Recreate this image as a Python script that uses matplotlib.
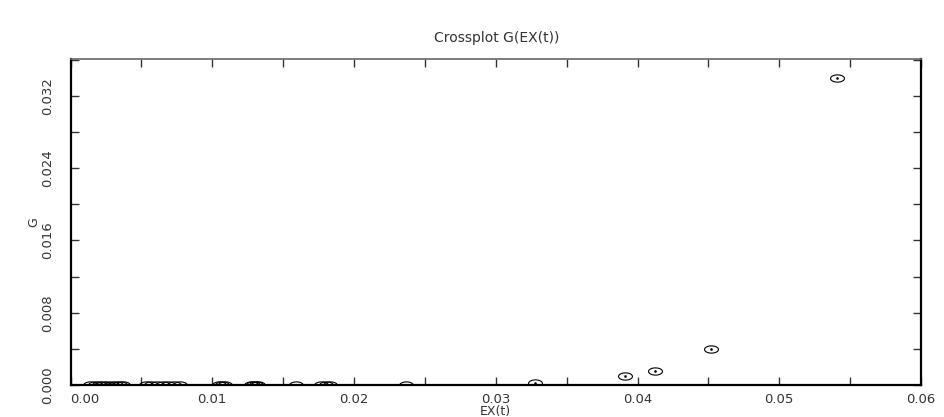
import matplotlib
matplotlib.use("Agg")
import matplotlib.pyplot as plt
import numpy as np
from matplotlib.path import Path
from matplotlib.ticker import MultipleLocator

# data
ex_t = [0.0014, 0.0017, 0.0020, 0.0023, 0.0026, 0.0029, 0.0032, 0.0035, 0.0037,
        0.0053, 0.0057, 0.0061, 0.0065, 0.0069, 0.0073, 0.0077,
        0.0105, 0.0107, 0.0109,
        0.0127, 0.0129, 0.0131, 0.0132,
        0.0159,
        0.0177, 0.0180, 0.0183,
        0.0237, 0.0328, 0.0391, 0.0412, 0.0452, 0.0541]
g_val = [0.0, 0.0, 0.00001, 0.0, 0.00001, 0.0, 0.00001, 0.0, 0.00001,
         0.0, 0.00001, 0.0, 0.00001, 0.0, 0.00001, 0.0,
         0.0, 0.00002, 0.0,
         0.0, 0.00002, 0.0, 0.00001,
         0.00002,
         0.0, 0.00002, 0.0,
         0.00003, 0.00025, 0.00096, 0.00158, 0.00398, 0.0340]

xticks = [0.00, 0.01, 0.02, 0.03, 0.04, 0.05, 0.06]
yticks = [0.000, 0.008, 0.016, 0.024, 0.032]

# flat ellipse marker
th = np.linspace(0, 2 * np.pi, 60)
ellipse = Path(np.column_stack([np.cos(th), 0.52 * np.sin(th)]), closed=True)

fig = plt.figure(figsize=(9.44, 4.17), dpi=100)
ax = fig.add_axes([70.5 / 944, 32 / 417, 850.5 / 944, 326 / 417])

ax.plot(ex_t, g_val, linestyle="none", marker=ellipse, markersize=10,
        markerfacecolor="none", markeredgecolor="black", markeredgewidth=0.8)
ax.plot(ex_t, g_val, linestyle="none", marker="s", markersize=0.8,
        color="black")

ax.set_xlim(0, 0.06)
ax.set_ylim(0, 0.03607)
ax.xaxis.set_minor_locator(MultipleLocator(0.005))
ax.yaxis.set_minor_locator(MultipleLocator(0.004))
ax.set_xticks(xticks)
ax.set_xticklabels([f"{v:.2f}" for v in xticks], fontsize=9.5, color="#333333")
ax.set_yticks(yticks)
ax.set_yticklabels([f"{v:.3f}" for v in yticks], rotation=90, va="center",
                   fontsize=9.5, color="#333333")
ax.get_xticklabels()[0].set_horizontalalignment("left")

ax.tick_params(which="both", direction="in", top=True, right=True,
               length=6, width=1, color="#333333")
ax.tick_params(axis="x", pad=6)
ax.tick_params(axis="y", pad=12)
for side in ["left", "right", "bottom"]:
    ax.spines[side].set_linewidth(1.6)
ax.spines["top"].set_linewidth(1.2)
ax.spines["top"].set_color("#666666")

ax.set_xlabel("EX(t)", fontsize=9, color="#333333")
ax.xaxis.set_label_coords(0.5, -0.061)
ax.set_ylabel("G", fontsize=9, color="#333333", rotation=90)
ax.yaxis.set_label_coords(-0.036, 0.5)
fig.text(497 / 944, 1 - 38 / 417, "Crossplot G(EX(t))", ha="center",
         va="center", fontsize=10, color="#333333")

plt.savefig("out.png", dpi=100)
plt.close()
